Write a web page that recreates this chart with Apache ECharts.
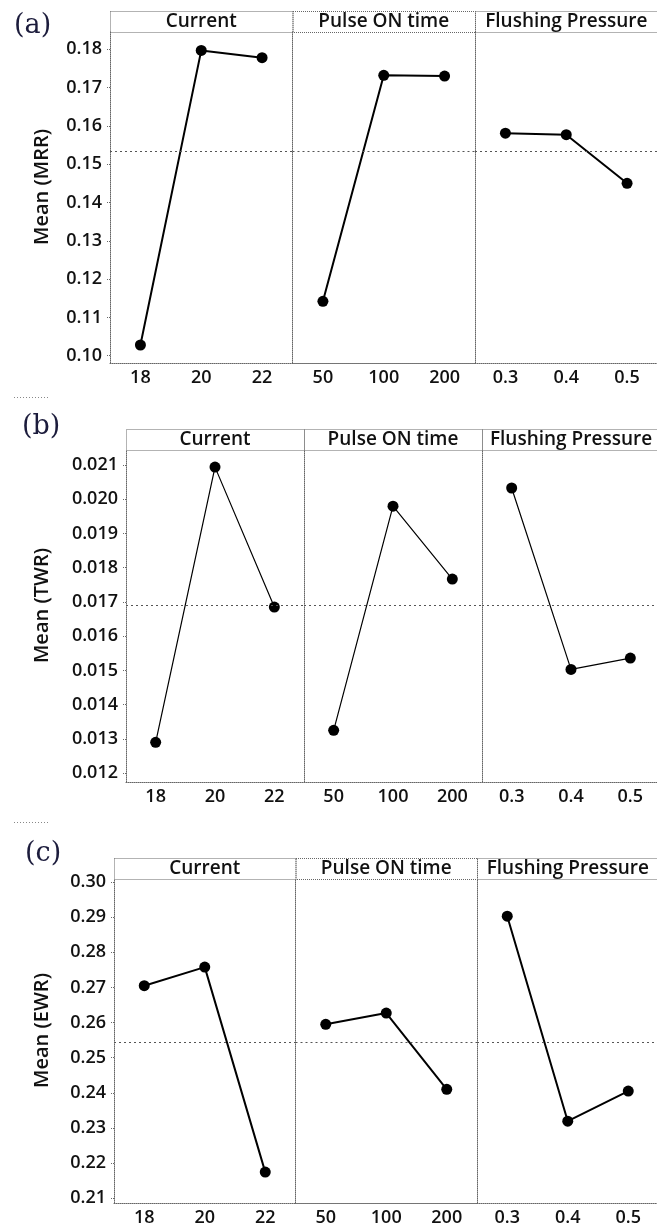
<!DOCTYPE html>
<html>
<head>
<meta charset="utf-8">
<script src="https://cdn.jsdelivr.net/npm/echarts@6/dist/echarts.min.js"></script>
<style>
  html, body { margin: 0; padding: 0; background: #fff; }
  #main { width: 657px; height: 1231px; }
</style>
</head>
<body>
<div id="main"></div>
<script>
// factors and their levels
const factors = ['Current', 'Pulse ON time', 'Flushing Pressure'];
const currentLevels = ['18', '20', '22'];
const pulseLevels = ['50', '100', '200'];
const flushingLevels = ['0.3', '0.4', '0.5'];

// (a) mean MRR
const mrrCurrent = [0.1028, 0.1797, 0.1778];
const mrrPulse = [0.1142, 0.1732, 0.1730];
const mrrFlushing = [0.1581, 0.1577, 0.1450];
const mrrTicks = [0.10, 0.11, 0.12, 0.13, 0.14, 0.15, 0.16, 0.17, 0.18];

// (b) mean TWR
const twrCurrent = [0.0129, 0.02094, 0.01685];
const twrPulse = [0.01325, 0.0198, 0.01767];
const twrFlushing = [0.02033, 0.01503, 0.01536];
const twrTicks = [0.012, 0.013, 0.014, 0.015, 0.016, 0.017, 0.018, 0.019, 0.020, 0.021];

// (c) mean EWR
const ewrCurrent = [0.2705, 0.2758, 0.2174];
const ewrPulse = [0.2595, 0.2627, 0.2410];
const ewrFlushing = [0.2903, 0.2319, 0.2405];
const ewrTicks = [0.21, 0.22, 0.23, 0.24, 0.25, 0.26, 0.27, 0.28, 0.29, 0.30];

const levels = [currentLevels, pulseLevels, flushingLevels];

// layout of the three figures
const panels = [
  { tag: '(a)', yName: 'Mean (MRR)', values: [mrrCurrent, mrrPulse, mrrFlushing], ticks: mrrTicks, dec: 2,
    min: 0.0981, max: 0.1845, headTop: 11, top: 32, bottom: 363, left: 110, w: 182.5, lineW: 2,
    tagX: 14, tagY: 26, nameX: 42 },
  { tag: '(b)', yName: 'Mean (TWR)', values: [twrCurrent, twrPulse, twrFlushing], ticks: twrTicks, dec: 3,
    min: 0.01174, max: 0.02144, headTop: 429, top: 450, bottom: 782, left: 126, w: 178, lineW: 1.2,
    tagX: 22, tagY: 427, nameX: 42 },
  { tag: '(c)', yName: 'Mean (EWR)', values: [ewrCurrent, ewrPulse, ewrFlushing], ticks: ewrTicks, dec: 2,
    min: 0.2086, max: 0.3009, headTop: 858, top: 879, bottom: 1203, left: 114, w: 181.5, lineW: 2,
    tagX: 25, tagY: 854, nameX: 42 }
];

const FONT = 'Open Sans';
const WEIGHT = 600;
const dotted = [1, 1];
const frameColor = '#666';

let grids = [], xAxes = [], yAxes = [], series = [], graphics = [];

panels.forEach((pn, ci) => {
  const all = [].concat(...pn.values);
  const mean = all.reduce((s, v) => s + v, 0) / all.length;

  for (let p = 0; p < 3; p++) {
    const gi = grids.length;
    const left = pn.left + p * pn.w;
    grids.push({
      left: left, top: pn.top, width: pn.w, height: pn.bottom - pn.top,
      containLabel: false, outerBoundsMode: 'none'
    });
    xAxes.push({
      type: 'category', gridIndex: gi, data: levels[p], boundaryGap: true,
      axisLine: { lineStyle: { color: frameColor, type: dotted, width: 1 } },
      axisTick: { alignWithLabel: true, length: 3, lineStyle: { color: frameColor, type: dotted } },
      axisLabel: { fontFamily: FONT, fontWeight: WEIGHT, fontSize: 18, color: '#111', margin: 6 },
      splitLine: { show: false }
    });
    yAxes.push({
      type: 'value', gridIndex: gi, min: pn.min, max: pn.max,
      axisLine: { show: true, lineStyle: { color: frameColor, type: dotted, width: 1 } },
      axisTick: { show: p === 0, length: 3, customValues: pn.ticks, lineStyle: { color: frameColor, type: dotted } },
      axisLabel: { show: p === 0, customValues: pn.ticks, fontFamily: FONT, fontWeight: WEIGHT, fontSize: 18,
        color: '#111', margin: 8, formatter: v => v.toFixed(pn.dec) },
      splitLine: { show: false }
    });
    series.push({
      type: 'line', xAxisIndex: gi, yAxisIndex: gi, data: pn.values[p],
      symbol: 'circle', symbolSize: 11,
      itemStyle: { color: '#000' },
      lineStyle: { color: '#000', width: pn.lineW },
      markLine: {
        silent: true, precision: 6, symbol: ['none', 'none'], label: { show: false },
        lineStyle: { color: '#555', type: [2, 3], width: 1 },
        data: [{ yAxis: mean }]
      }
    });

    // header box + factor name
    graphics.push({
      type: 'rect', silent: true,
      shape: { x: left + 0.5, y: pn.headTop + 0.5, width: pn.w, height: pn.top - pn.headTop },
      style: { fill: 'none', stroke: frameColor, lineWidth: 1, lineDash: dotted }
    });
    graphics.push({
      type: 'text', silent: true, x: left + pn.w / 2, y: (pn.headTop + pn.top) / 2,
      style: { text: factors[p], font: WEIGHT + ' 19px "' + FONT + '"', fill: '#111', align: 'center', verticalAlign: 'middle' }
    });
  }

  // y axis name, centred on the whole frame
  graphics.push({
    type: 'text', silent: true, x: pn.nameX, y: (pn.headTop + pn.bottom) / 2, rotation: Math.PI / 2,
    style: { text: pn.yName, font: WEIGHT + ' 20px "' + FONT + '"', fill: '#111', align: 'center', verticalAlign: 'middle' }
  });
  // figure tag
  graphics.push({
    type: 'text', silent: true, x: pn.tagX, y: pn.tagY,
    style: { text: pn.tag, font: '27px "DejaVu Serif"', fill: '#1c1c3c', align: 'left', verticalAlign: 'middle' }
  });
});

// little dotted separators left of (b) and (c)
[397.5, 822.5].forEach(y => {
  graphics.push({
    type: 'line', silent: true, shape: { x1: 14, y1: y, x2: 50, y2: y },
    style: { stroke: '#888', lineWidth: 1, lineDash: [1, 2] }
  });
});

let myChart = echarts.init(document.getElementById('main'));
myChart.setOption({
  animation: false,
  backgroundColor: '#fff',
  grid: grids,
  xAxis: xAxes,
  yAxis: yAxes,
  series: series,
  graphic: graphics
});
</script>
</body>
</html>
